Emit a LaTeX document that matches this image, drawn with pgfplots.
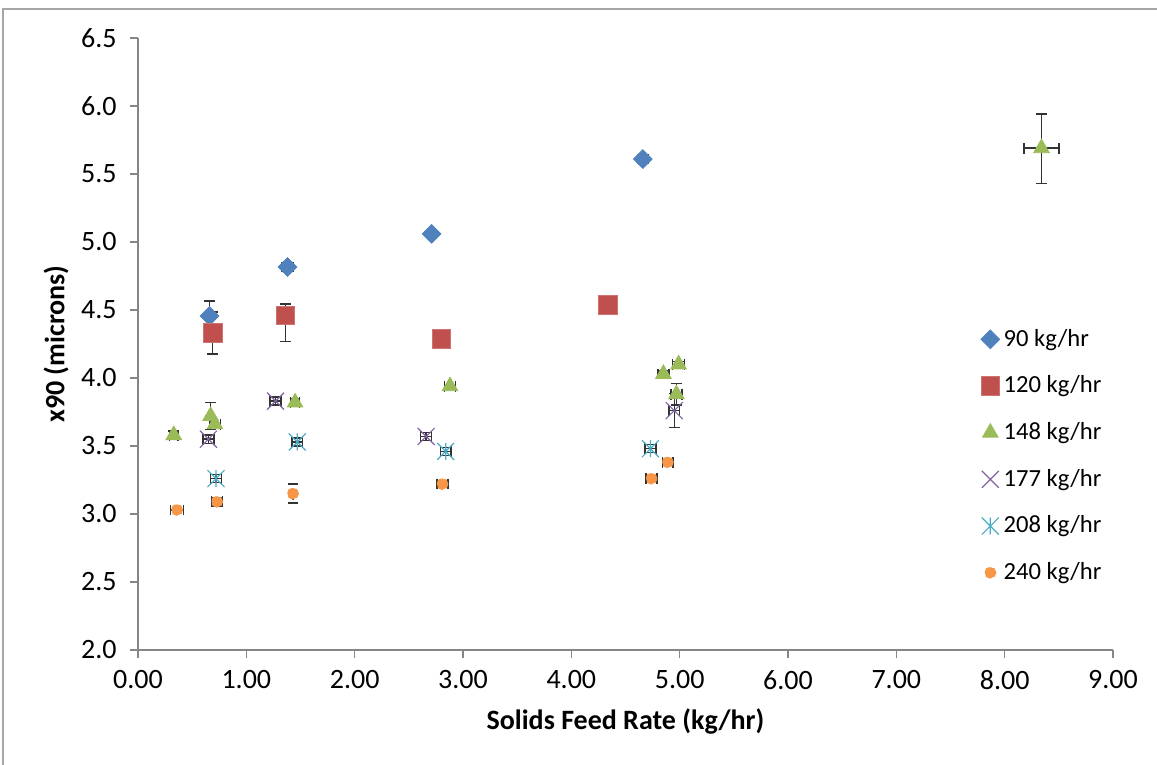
\documentclass[border=0pt]{standalone}
\usepackage{pgfplots}
\pgfplotsset{compat=1.18}
\usepackage{pgfplotstable}
\usepackage{fontspec}
\setmainfont{Carlito}
\definecolor{cBlue}{HTML}{4F81BD}
\definecolor{cRed}{HTML}{C0504D}
\definecolor{cGreen}{HTML}{9BBB59}
\definecolor{cPurple}{HTML}{8064A2}
\definecolor{cCyan}{HTML}{4BACC6}
\definecolor{cOrange}{HTML}{F79646}
\definecolor{cAxis}{HTML}{868686}
\definecolor{cFrame}{HTML}{A6A6A6}
\pgfdeclareplotmark{xstar}{%
  \pgfpathmoveto{\pgfqpoint{-.7071\pgfplotmarksize}{-.7071\pgfplotmarksize}}%
  \pgfpathlineto{\pgfqpoint{.7071\pgfplotmarksize}{.7071\pgfplotmarksize}}%
  \pgfpathmoveto{\pgfqpoint{-.7071\pgfplotmarksize}{.7071\pgfplotmarksize}}%
  \pgfpathlineto{\pgfqpoint{.7071\pgfplotmarksize}{-.7071\pgfplotmarksize}}%
  \pgfpathmoveto{\pgfqpoint{0pt}{-.7071\pgfplotmarksize}}%
  \pgfpathlineto{\pgfqpoint{0pt}{.7071\pgfplotmarksize}}%
  \pgfusepathqstroke}

% columns: x y ex eyp eym
\pgfplotstableread{
x y ex eyp eym
0.66 4.456 0 0.11 0.11
1.38 4.816 0.05 0 0
2.71 5.06 0 0 0
4.66 5.61 0.05 0 0
}\tblA
\pgfplotstableread{
x y ex eyp eym
0.69 4.33 0 0.155 0.155
1.36 4.46 0 0.085 0.19
2.80 4.29 0 0 0
4.34 4.54 0 0 0
}\tblB
\pgfplotstableread{
x y ex eyp eym
0.33 3.58 0.04 0.03 0.03
0.67 3.72 0 0.10 0.10
0.71 3.66 0.05 0 0
1.45 3.82 0.04 0.03 0.03
2.88 3.94 0.05 0 0
4.85 4.03 0.05 0.02 0.02
4.99 4.10 0.055 0.02 0.02
4.97 3.88 0.05 0.08 0.08
8.34 5.69 0.16 0.25 0.26
}\tblC
\pgfplotstableread{
x y ex eyp eym
0.65 3.55 0.05 0.03 0.03
1.27 3.83 0.05 0.03 0.03
2.66 3.57 0.05 0.03 0.03
4.95 3.76 0.05 0.125 0.125
}\tblD
\pgfplotstableread{
x y ex eyp eym
0.72 3.26 0.05 0.03 0.03
1.47 3.53 0.05 0.03 0.03
2.84 3.46 0.05 0.03 0.03
4.73 3.48 0.05 0.03 0.03
}\tblE
\pgfplotstableread{
x y ex eyp eym
0.36 3.03 0.06 0 0
0.73 3.09 0.05 0.03 0.03
1.43 3.15 0 0.07 0.07
2.81 3.22 0.05 0 0
4.89 3.38 0.05 0 0
4.74 3.26 0.05 0 0
}\tblF

\begin{document}
\fontsize{12}{14}\selectfont
\begin{tikzpicture}
\useasboundingbox (0,0) rectangle (578.5pt,382.5pt);
\draw[cFrame, line width=0.6pt] (1.5pt,-10pt) rectangle (600pt,378pt);
\begin{axis}[
  at={(69pt,57.5pt)}, anchor=south west,
  scale only axis, width=487.5pt, height=306pt,
  xmin=0, xmax=9, ymin=2, ymax=6.5,
  xtick={0,1,...,9}, ytick={2,2.5,...,6.5},
  axis x line*=bottom, axis y line*=left,
  axis line style={cAxis, line width=0.7pt, -},
  tick style={cAxis, line width=0.7pt},
  tick align=outside, major tick length=4pt,
  /pgf/number format/assume math mode=true,
  xticklabel style={/pgf/number format/fixed, /pgf/number format/fixed zerofill, /pgf/number format/precision=2, yshift=-2pt},
  yticklabel style={/pgf/number format/fixed, /pgf/number format/fixed zerofill, /pgf/number format/precision=1, xshift=-2.5pt},
  ticklabel style={font=\fontsize{14}{16}\selectfont, text=black},
  xlabel={\textbf{Solids Feed Rate (kg/hr)}},
  ylabel={\textbf{x90 (microns)}},
  xlabel style={at={(axis description cs:0.5,-0.1176)}, anchor=center, font=\fontsize{14}{16}\selectfont},
  ylabel style={at={(axis description cs:-0.0841,0.5)}, anchor=center, font=\fontsize{14}{16}\selectfont},
  every axis plot/.append style={only marks,
    legend image code/.code={\draw[mark repeat=2,mark phase=2,##1] plot coordinates {(0cm,0cm) (0.1cm,0cm) (0.2cm,0cm)};}},
  error bars/error bar style={line width=0.7pt, black!80},
  error bars/error mark options={rotate=90, mark size=2.7pt, line width=0.7pt, black!80},
  legend style={draw=none, fill=none, at={(axis description cs:0.858,0.317)}, anchor=west,
    font=\fontsize{12.3}{14}\selectfont, row sep=9pt},
  legend cell align=left,
]
\addplot+[mark=square*, mark size=3.3pt, mark options={rotate=45, fill=cBlue, draw=cBlue}, color=cBlue,
  error bars/.cd, x dir=both, y dir=both, x explicit, y explicit]
  table[x=x, y=y, x error=ex, y error plus=eyp, y error minus=eym]{\tblA};
\addlegendentry{90 kg/hr}
\addplot+[mark=square*, mark size=4.7pt, mark options={fill=cRed, draw=cRed!80!white}, color=cRed,
  error bars/.cd, x dir=both, y dir=both, x explicit, y explicit]
  table[x=x, y=y, x error=ex, y error plus=eyp, y error minus=eym]{\tblB};
\addlegendentry{120 kg/hr}
\addplot+[mark=triangle*, mark size=4.5pt, mark options={fill=cGreen, draw=cGreen}, color=cGreen,
  error bars/.cd, x dir=both, y dir=both, x explicit, y explicit]
  table[x=x, y=y, x error=ex, y error plus=eyp, y error minus=eym]{\tblC};
\addlegendentry{148 kg/hr}
\addplot+[mark=x, mark size=6pt, mark options={draw=cPurple, line width=0.6pt}, color=cPurple,
  error bars/.cd, x dir=both, y dir=both, x explicit, y explicit]
  table[x=x, y=y, x error=ex, y error plus=eyp, y error minus=eym]{\tblD};
\addlegendentry{177 kg/hr}
\addplot+[mark=xstar, mark size=6pt, mark options={draw=cCyan, line width=0.6pt}, color=cCyan,
  error bars/.cd, x dir=both, y dir=both, x explicit, y explicit]
  table[x=x, y=y, x error=ex, y error plus=eyp, y error minus=eym]{\tblE};
\addlegendentry{208 kg/hr}
\addplot+[mark=*, mark size=2.8pt, mark options={fill=cOrange, draw=cOrange}, color=cOrange,
  error bars/.cd, x dir=both, y dir=both, x explicit, y explicit]
  table[x=x, y=y, x error=ex, y error plus=eyp, y error minus=eym]{\tblF};
\addlegendentry{240 kg/hr}
\end{axis}
\end{tikzpicture}
\end{document}
